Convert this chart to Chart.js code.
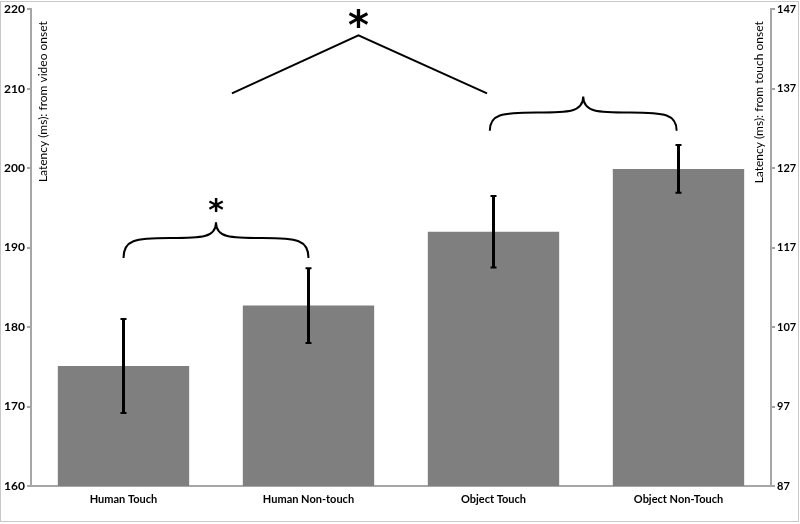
<!DOCTYPE html>
<html>
<head>
<meta charset="utf-8">
<script src="https://cdn.jsdelivr.net/npm/chart.js@4"></script>
<style>
  body { margin: 0; background: #fff; }
  #wrap { width: 800px; height: 524px; }
</style>
</head>
<body>
<div id="wrap"><canvas id="chart"></canvas></div>
<script>
const categories = ['Human Touch', 'Human Non-touch', 'Object Touch', 'Object Non-Touch'];
const latency = [175.1, 182.7, 192.0, 199.9];
const errors = [5.9, 4.7, 4.5, 3.0];
const leftTicks = [160, 170, 180, 190, 200, 210, 220];
const rightTicks = [87, 97, 107, 117, 127, 137, 147];

const labelFont = 'Lato, "Liberation Sans", sans-serif';

// error bars drawn on top of the bars
const errorBars = {
    id: 'errorBars',
    afterDatasetsDraw(chart) {
        const ctx = chart.ctx;
        const y = chart.scales.y;
        const meta = chart.getDatasetMeta(0);
        ctx.save();
        ctx.strokeStyle = '#000';
        meta.data.forEach((bar, i) => {
            const top = y.getPixelForValue(latency[i] + errors[i]);
            const bot = y.getPixelForValue(latency[i] - errors[i]);
            ctx.lineWidth = 3;
            ctx.beginPath();
            ctx.moveTo(bar.x, top);
            ctx.lineTo(bar.x, bot);
            ctx.stroke();
            ctx.lineWidth = 2;
            ctx.beginPath();
            ctx.moveTo(bar.x - 3, top);
            ctx.lineTo(bar.x + 3, top);
            ctx.moveTo(bar.x - 3, bot);
            ctx.lineTo(bar.x + 3, bot);
            ctx.stroke();
        });
        ctx.restore();
    }
};

function brace(ctx, x1, x2, yEnd, yMid, yTip) {
    const xm = (x1 + x2) / 2;
    const w = x2 - x1;
    ctx.beginPath();
    ctx.moveTo(x1, yEnd);
    ctx.bezierCurveTo(x1, yMid + 2, x1 + w * 0.06, yMid, x1 + w * 0.25, yMid);
    ctx.bezierCurveTo(xm - w * 0.08, yMid, xm, yMid, xm, yTip);
    ctx.bezierCurveTo(xm, yMid, xm + w * 0.08, yMid, x2 - w * 0.25, yMid);
    ctx.bezierCurveTo(x2 - w * 0.06, yMid, x2, yMid + 2, x2, yEnd);
    ctx.stroke();
}

// significance marks, axis titles and outer frame
const annotations = {
    id: 'annotations',
    afterDraw(chart) {
        const ctx = chart.ctx;
        const x = chart.scales.x;
        const y = chart.scales.y;
        const area = chart.chartArea;
        const xp = v => x.getPixelForValue(v);
        const yp = v => y.getPixelForValue(v);
        ctx.save();
        ctx.strokeStyle = '#000';
        ctx.lineWidth = 2;

        brace(ctx, xp(0), xp(1), yp(188.7), yp(191.2), yp(193.2));
        brace(ctx, xp(1.98), xp(2.99), yp(204.7), yp(207.0), yp(209.0));

        ctx.beginPath();
        ctx.moveTo(xp(0.586), yp(209.4));
        ctx.lineTo(xp(1.27), yp(216.7));
        ctx.lineTo(xp(1.965), yp(209.4));
        ctx.stroke();

        ctx.fillStyle = '#000';
        ctx.textAlign = 'center';
        ctx.textBaseline = 'middle';
        ctx.font = 'bold 30px "DejaVu Sans", sans-serif';
        ctx.fillText('*', xp(0.5), yp(194.5));
        ctx.font = 'bold 40px "DejaVu Sans", sans-serif';
        ctx.fillText('*', xp(1.27), yp(217.6));

        ctx.font = '12px ' + labelFont;
        ctx.textBaseline = 'middle';
        ctx.textAlign = 'right';
        ctx.save();
        ctx.translate(area.left + 12, area.top + 12);
        ctx.rotate(-Math.PI / 2);
        ctx.fillText('Latency (ms): from video onset', 0, 0);
        ctx.restore();
        ctx.save();
        ctx.translate(area.right - 12, area.top + 12);
        ctx.rotate(-Math.PI / 2);
        ctx.fillText('Latency (ms): from touch onset', 0, 0);
        ctx.restore();

        ctx.strokeStyle = '#c8c8c8';
        ctx.lineWidth = 1;
        ctx.strokeRect(0.5, 1.5, 798, 520);
        ctx.restore();
    }
};

const ctx = document.getElementById('chart').getContext('2d');
const myChart = new Chart(ctx, {
    type: 'bar',
    data: {
        labels: categories,
        datasets: [{
            data: latency,
            backgroundColor: '#7f7f7f',
            borderWidth: 0,
            barPercentage: 0.71,
            categoryPercentage: 1
        }]
    },
    options: {
        responsive: true,
        maintainAspectRatio: false,
        animation: false,
        layout: { padding: { top: 8, left: 0, right: 0, bottom: 0 } },
        plugins: {
            legend: { display: false },
            tooltip: { enabled: false }
        },
        scales: {
            x: {
                grid: { display: false, drawTicks: false },
                border: { color: '#a6a6a6', width: 2 },
                ticks: {
                    color: '#000',
                    padding: 7,
                    font: { family: labelFont, size: 11, weight: 'bold' }
                },
                afterFit(scale) { scale.height = 38; }
            },
            y: {
                position: 'left',
                min: 160,
                max: 220,
                afterBuildTicks(scale) { scale.ticks = leftTicks.map(v => ({ value: v })); },
                grid: { drawOnChartArea: false, tickLength: 4, color: '#a6a6a6', lineWidth: 2 },
                border: { color: '#a6a6a6', width: 2 },
                ticks: { color: '#000', padding: 2, font: { family: labelFont, size: 12, weight: 'bold' } },
                afterFit(scale) { scale.width = 31; }
            },
            y1: {
                position: 'right',
                min: 87,
                max: 147,
                afterBuildTicks(scale) { scale.ticks = rightTicks.map(v => ({ value: v })); },
                grid: { drawOnChartArea: false, tickLength: 4, color: '#a6a6a6', lineWidth: 2 },
                border: { color: '#a6a6a6', width: 2 },
                ticks: { color: '#000', padding: 2, font: { family: labelFont, size: 11, weight: 'bold' } },
                afterFit(scale) { scale.width = 29; }
            }
        }
    },
    plugins: [errorBars, annotations]
});
</script>
</body>
</html>
